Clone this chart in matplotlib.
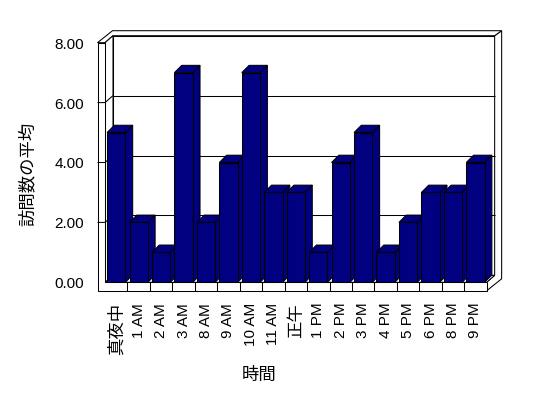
import matplotlib
matplotlib.use("Agg")
import matplotlib.pyplot as plt
from matplotlib.patches import Polygon

# ---- data ----
categories = ["真夜中", "1 AM", "2 AM", "3 AM", "8 AM", "9 AM", "10 AM", "11 AM", "正午",
              "1 PM", "2 PM", "3 PM", "4 PM", "5 PM", "6 PM", "8 PM", "9 PM"]
values = [5, 2, 1, 7, 2, 4, 7, 3, 3, 1, 4, 5, 1, 2, 3, 3, 4]
y_ticks = [0, 2, 4, 6, 8]
y_tick_labels = ["0.00", "2.00", "4.00", "6.00", "8.00"]
x_title = "時間"
y_title = "訪問数の平均"

# ---- layout (pixels) ----
W, H = 548, 398
PX_X = 22.45        # px per category
PX_Y = 29.95        # px per value unit
LEFT_PX = 105.0     # front face x=0
BASE_PX = 282.3     # front face y=0 (from top)
NAVY = "#000080"
LW = 0.75

fig = plt.figure(figsize=(W / 100, H / 100), dpi=100)
ax = fig.add_axes([0, 0, 1, 1])
ax.set_xlim(-LEFT_PX / PX_X, (W - LEFT_PX) / PX_X)
base_from_bottom = H - BASE_PX
ax.set_ylim(-base_from_bottom / PX_Y, (H - base_from_bottom) / PX_Y)
ax.axis("off")

n = len(categories)
ymax = y_ticks[-1]
Dx, Dy = 8 / PX_X, 7 / PX_Y        # interior depth
Tx, Ty = 15 / PX_X, 12 / PX_Y      # total depth incl. wall thickness
L = 7.5 / PX_X                     # left wall thickness
F = 8.5 / PX_Y                     # floor thickness


def poly(pts, fc="white", z=1):
    ax.add_patch(Polygon(pts, closed=True, facecolor=fc, edgecolor="black",
                         linewidth=LW, joinstyle="miter", zorder=z))


def line(xs, ys, z=2):
    ax.plot(xs, ys, color="black", linewidth=LW, zorder=z, solid_capstyle="butt")


# back wall front face
poly([(Dx, Dy), (n + Dx, Dy), (n + Dx, ymax + Dy), (Dx, ymax + Dy)], z=1)
# right side (floor + back wall)
poly([(n, 0), (n, -F), (n + Tx, -F + Ty), (n + Tx, ymax + Ty),
      (n + Dx, ymax + Dy), (n + Dx, Dy)], z=1)
# top of walls
poly([(-L, ymax), (0, ymax), (Dx, ymax + Dy), (n + Dx, ymax + Dy),
      (n + Tx, ymax + Ty), (-L + Tx, ymax + Ty)], z=1)
# floor top
poly([(0, 0), (n, 0), (n + Dx, Dy), (Dx, Dy)], z=1)
# left wall inner face
poly([(0, 0), (0, ymax), (Dx, ymax + Dy), (Dx, Dy)], z=1)
# front L (left wall + floor front)
poly([(-L, -F), (n, -F), (n, 0), (0, 0), (0, ymax), (-L, ymax)], z=1)

# gridlines
for v in y_ticks[1:-1]:
    line([Dx, n + Dx], [v + Dy, v + Dy])
    line([-L, 0, Dx], [v, v, v + Dy])
# floor ticks
for i in range(1, n):
    line([i, i], [0, -F])

# bars
bw = 0.815
bdx, bdy = 7.3 / PX_X, 7.3 / PX_Y
for i, v in enumerate(values):
    x0 = i + (1 - bw) / 2
    x1 = x0 + bw
    z = 3 + i * 0.01
    poly([(x1, 0), (x1 + bdx, bdy), (x1 + bdx, v + bdy), (x1, v)], fc=NAVY, z=z)
    poly([(x0, v), (x1, v), (x1 + bdx, v + bdy), (x0 + bdx, v + bdy)], fc=NAVY, z=z)
    poly([(x0, 0), (x1, 0), (x1, v), (x0, v)], fc=NAVY, z=z + 0.001)

# y tick labels
for v, lab in zip(y_ticks, y_tick_labels):
    ax.text(-L - 13.5 / PX_X, v - 2 / PX_Y, lab, ha="right", va="center",
            fontsize=11, family=["Liberation Sans", "Noto Sans CJK JP"], zorder=5)

# x tick labels
for i, lab in enumerate(categories):
    cjk = any(ord(c) > 127 for c in lab)
    ax.text(i + 0.5, -F - 12 / PX_Y, lab, rotation=90, ha="center", va="top",
            fontsize=12.5 if cjk else 11,
            family=["Noto Sans CJK JP"] if cjk else ["Liberation Sans", "Noto Sans CJK JP"],
            zorder=5)

# axis titles
ax.text((259 - LEFT_PX) / PX_X, (BASE_PX - 375) / PX_Y, x_title, ha="center", va="center",
        fontsize=12.5, family=["Noto Sans CJK JP"])
ax.text((27.5 - LEFT_PX) / PX_X, (BASE_PX - 174) / PX_Y, y_title, ha="center", va="center",
        rotation=90, fontsize=12.5, family=["Noto Sans CJK JP"])

fig.savefig("out.png", dpi=100)
